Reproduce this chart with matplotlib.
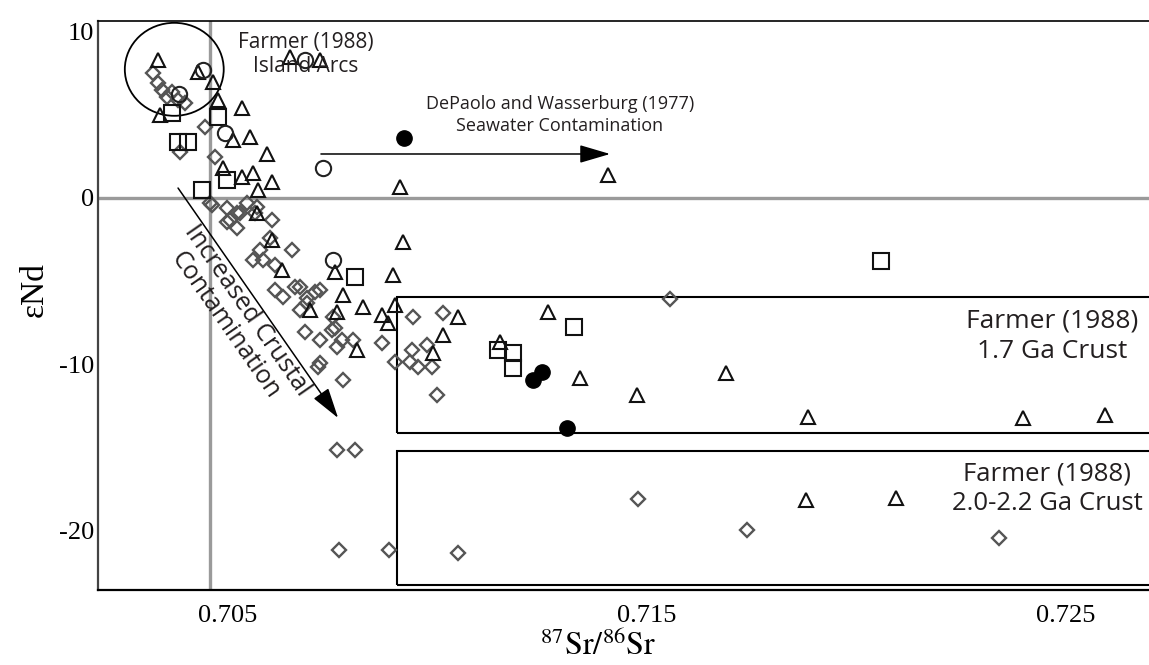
import matplotlib
matplotlib.use("Agg")
import matplotlib.pyplot as plt
from matplotlib.patches import Ellipse, Rectangle, FancyArrowPatch

plt.rcParams['mathtext.fontset'] = 'stix'

# ---------------- data ----------------
diamond_x = [0.70321, 0.70333, 0.70343, 0.70354, 0.70366, 0.70381, 0.70397, 0.70385, 0.70445, 0.70469,
             0.70457, 0.70498, 0.70522, 0.70545, 0.70564, 0.70605, 0.70505, 0.70462, 0.70498, 0.70522,
             0.70529, 0.70569, 0.70600, 0.70576, 0.70560, 0.70584, 0.70612, 0.70653, 0.70612, 0.70631,
             0.70660, 0.70689, 0.70720, 0.70672, 0.70684, 0.70720, 0.70755, 0.70760, 0.70798, 0.70751,
             0.70720, 0.70774, 0.70868, 0.70942, 0.70899, 0.70934, 0.71555, 0.71013, 0.70939, 0.70953,
             0.70987, 0.70999, 0.70715, 0.70689, 0.70708, 0.70672, 0.70748, 0.70772, 0.70975, 0.70760,
             0.70803, 0.70765, 0.70885, 0.71049, 0.71479, 0.71739, 0.72340]
diamond_y = [7.53, 6.93, 6.51, 6.08, 6.39, 5.90, 5.72, 2.77, 4.28, 2.47,
             -0.30, -0.60, -0.90, -0.30, -0.90, -1.33, -1.33, -0.42, -1.45, -1.81,
             -0.90, -0.54, -2.41, -3.13, -3.73, -3.73, -4.04, -3.13, -5.54, -5.96,
             -5.36, -6.02, -5.54, -6.75, -8.07, -8.55, -7.83, -8.98, -8.55, -7.17,
             -9.94, -10.96, -8.73, -7.17, -9.88, -9.88, -6.08, -6.93, -9.16, -10.18,
             -10.18, -11.87, -10.18, -6.33, -5.66, -5.36, -7.95, -8.55, -8.86, -15.18,
             -15.18, -21.20, -21.20, -21.39, -18.13, -20.00, -20.48]

triangle_x = [0.70333, 0.70428, 0.70464, 0.70476, 0.70533, 0.70338, 0.70553, 0.70511, 0.70593, 0.70605,
              0.70560, 0.70533, 0.70488, 0.70572, 0.70648, 0.70720, 0.70569, 0.70605, 0.70629, 0.70696,
              0.70760, 0.70774, 0.70808, 0.70822, 0.70868, 0.70882, 0.70899, 0.70918, 0.70894, 0.70911,
              0.71407, 0.70755, 0.71049, 0.71013, 0.71264, 0.71149, 0.70989, 0.71340, 0.71476, 0.71689,
              0.71884, 0.72397, 0.72593, 0.71879, 0.72094]
triangle_y = [8.31, 7.59, 6.99, 5.90, 5.42, 5.00, 3.67, 3.49, 2.65, 0.96,
              1.51, 1.27, 1.81, 0.48, 8.49, 8.31, -0.90, -2.53, -4.34, -6.75,
              -6.87, -5.84, -9.16, -6.57, -7.05, -7.53, -6.45, -2.65, -4.64, 0.66,
              1.39, -4.46, -7.17, -8.25, -6.87, -8.67, -9.34, -10.84, -11.87, -10.54,
              -13.19, -13.25, -13.07, -18.19, -18.07]

square_x = [0.70366, 0.70476, 0.70381, 0.70405, 0.70498, 0.70438, 0.70803, 0.71144, 0.71180, 0.71180,
            0.71326, 0.72058]
square_y = [5.12, 4.88, 3.37, 3.37, 1.08, 0.48, -4.76, -9.16, -9.34, -10.24, -7.77, -3.80]

circle_x = [0.70383, 0.70440, 0.70493, 0.70727, 0.70751, 0.70684]
circle_y = [6.27, 7.71, 3.92, 1.81, -3.73, 8.31]

filled_x = [0.70920, 0.71228, 0.71249, 0.71309]
filled_y = [3.61, -10.96, -10.48, -13.86]

xtick_vals = [0.705, 0.715, 0.725]
xtick_labels = ["0.705", "0.715", "0.725"]
ytick_vals = [10, 0, -10, -20]
ytick_labels = ["10", "0", "-10", "-20"]

# ---------------- figure ----------------
W, H = 1149, 665
fig = plt.figure(figsize=(W / 100, H / 100), dpi=100)
ax = fig.add_axes([98 / W, (H - 590) / H, (W - 98) / W, (590 - 21) / H])
ax.set_xlim(0.70190, 0.72698)
ax.set_ylim(-23.61, 10.66)

# reference lines
ax.axhline(0, color='#9a9a9a', lw=2.4, zorder=1)
ax.axvline(0.70457, color='#9a9a9a', lw=2.4, zorder=1)

# Farmer boxes (open on right side)
for (yb, yt) in [(-14.16, -5.96), (-23.31, -15.24)]:
    ax.add_patch(Rectangle((0.70903, yb), 0.03, yt - yb, fill=False, ec='black', lw=1.5, zorder=2))

# Island arcs circle
ax.add_patch(Ellipse((0.70372, 7.75), 0.00236, 5.6, fill=False, ec='black', lw=1.3, zorder=2))

mk = dict(linestyle='none', markerfacecolor='none', zorder=3)
ax.plot(diamond_x, diamond_y, marker='D', markersize=7.2, markeredgecolor='#555555', markeredgewidth=1.7, **mk)
ax.plot(triangle_x, triangle_y, marker='^', markersize=10.5, markeredgecolor='#111111', markeredgewidth=1.5, **mk)
ax.plot(square_x, square_y, marker='s', markersize=12, markeredgecolor='#111111', markeredgewidth=1.5, **mk)
ax.plot(circle_x, circle_y, marker='o', markersize=11, markeredgecolor='#222222', markeredgewidth=1.5, **mk)
ax.plot(filled_x, filled_y, marker='o', markersize=11, linestyle='none', color='black', zorder=4)

# arrows
astyle = '-|>,head_length=0.95,head_width=0.28'
ax.add_patch(FancyArrowPatch((0.70722, 2.65), (0.71412, 2.65), arrowstyle=astyle,
                             mutation_scale=20, color='black', lw=1.1, shrinkA=0, shrinkB=0, zorder=5))
ax.add_patch(FancyArrowPatch((0.70381, 0.60), (0.70763, -13.25), arrowstyle=astyle,
                             mutation_scale=20, color='black', lw=1.1, shrinkA=0, shrinkB=0, zorder=5))

sans = 'Open Sans'
tc = '#231f20'
ax.text(0.70686, 8.65, "Farmer (1988)\nIsland Arcs", ha='center', va='center', fontsize=15,
        family=sans, color=tc, linespacing=1.15, zorder=6)
ax.text(0.71292, 5.0, "DePaolo and Wasserburg (1977)\nSeawater Contamination", ha='center', va='center',
        fontsize=13, family=sans, color=tc, linespacing=1.25, zorder=6)
ax.text(0.72467, -8.35, "Farmer (1988)\n1.7 Ga Crust", ha='center', va='center', fontsize=19,
        family=sans, color=tc, linespacing=1.3, zorder=6)
ax.text(0.72455, -17.5, "Farmer (1988)\n2.0-2.2 Ga Crust", ha='center', va='center', fontsize=18.5,
        family=sans, color=tc, linespacing=1.25, zorder=6)
ax.text(0.70519, -7.23, "Increased Crustal\nContamination", ha='center', va='center', fontsize=18,
        family=sans, color=tc, rotation=-55.2, rotation_mode='anchor', linespacing=1.1, zorder=6)

# axes styling
ax.spines['right'].set_visible(False)
ax.spines['left'].set_color('#444444')
ax.spines['left'].set_linewidth(1.6)
ax.spines['top'].set_color('black')
ax.spines['top'].set_linewidth(1.2)
ax.spines['bottom'].set_color('black')
ax.spines['bottom'].set_linewidth(1.6)

serif = 'Liberation Serif'
ax.set_xticks(xtick_vals)
ax.set_xticklabels(xtick_labels, family=serif, fontsize=19)
ax.set_yticks(ytick_vals)
ax.set_yticklabels(ytick_labels, family=serif, fontsize=19)
ax.tick_params(axis='x', length=0, pad=11)
ax.tick_params(axis='y', length=0, pad=3)

fig.text(35 / W, 1 - 290 / H, "εNd", rotation=90, ha='center', va='center', fontsize=24, family=serif)
fig.text(598 / W, 1 - 646 / H, r"$^{87}\mathrm{Sr}/^{86}\mathrm{Sr}$", ha='center', va='center', fontsize=23)

fig.savefig("out.png", dpi=100)
